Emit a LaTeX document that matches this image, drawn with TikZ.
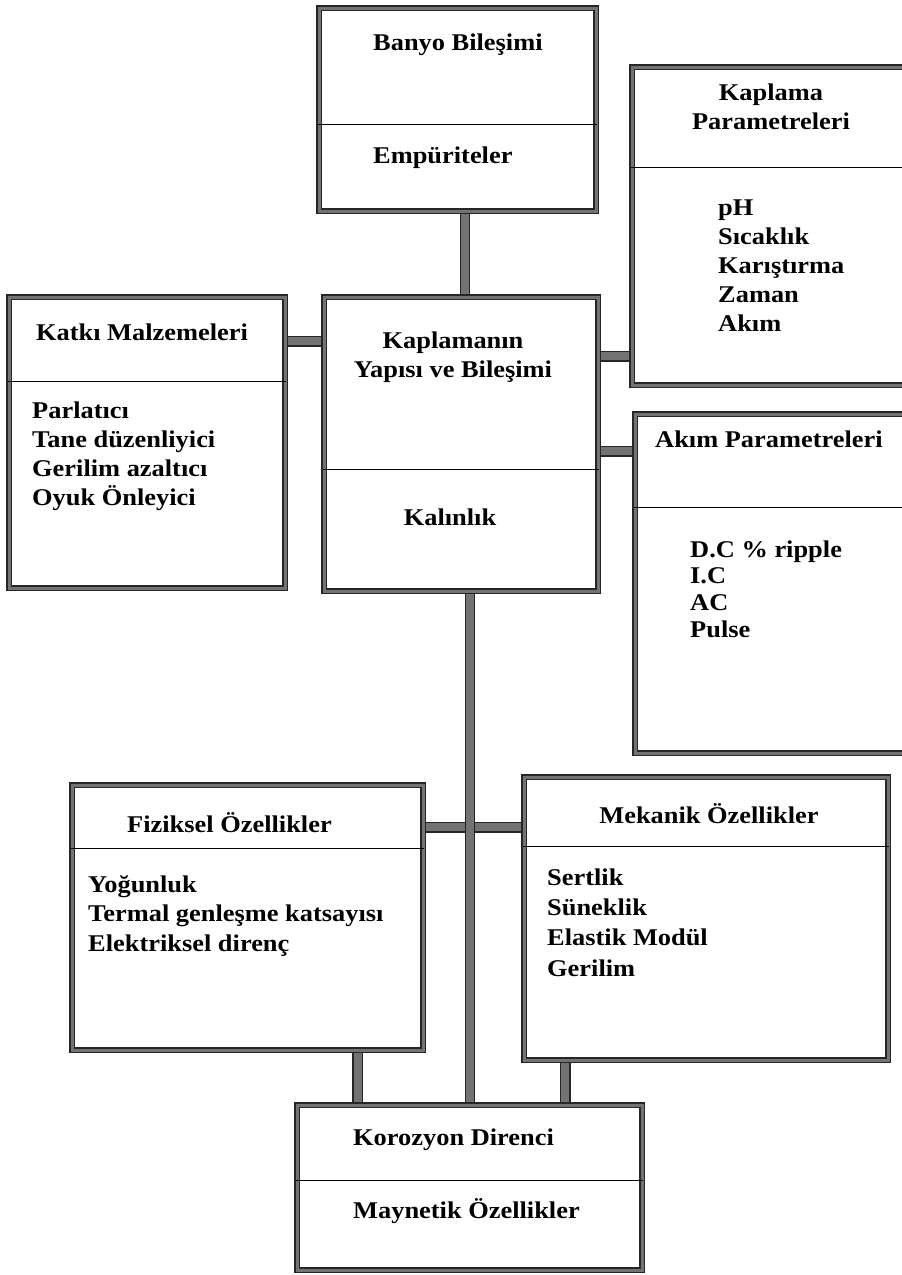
\documentclass[tikz,border=0pt]{standalone}
\usepackage{fontspec}
\setmainfont{Liberation Serif}[FakeStretch=1.1]
\usepackage{tikz}
\usetikzlibrary{positioning,backgrounds}
\tikzset{
    panel/.style={
           rectangle,
           draw=black!85, line width=1.1pt,
           double=black!55, double distance=3pt,
           fill=white,
           inner sep=0pt,
           },
    bar/.style={
           draw=black!85, line width=1.2pt,
           double=black!55, double distance=8pt,
           },
    divider/.style={draw=black, line width=1.1pt},
    boxtext/.style={
           inner sep=0pt,
           font=\bfseries\fontsize{24}{29}\selectfont,
           },
}

\begin{document}
\begin{tikzpicture}[x=1pt,y=-1pt]

 \useasboundingbox (0,0) rectangle (902,1275);
 \clip (0,0) rectangle (902,1275);

 % the boxes
 \node[panel, minimum width=277pt, minimum height=203pt] (BANYO)    at (457.5,109.5) {};
 \node[panel, minimum width=280pt, minimum height=318pt] (KAPLAMA)  at (772,226) {};
 \node[panel, minimum width=276pt, minimum height=291pt] (KATKI)    at (147,442.5) {};
 \node[panel, minimum width=274pt, minimum height=294pt] (YAPI)     at (461,444) {};
 \node[panel, minimum width=277pt, minimum height=339pt] (AKIM)     at (773.5,583.5) {};
 \node[panel, minimum width=351pt, minimum height=265pt] (FIZIK)    at (247.5,917.5) {};
 \node[panel, minimum width=364pt, minimum height=283pt] (MEKANIK)  at (706,918.5) {};
 \node[panel, minimum width=345pt, minimum height=165pt] (KOROZYON) at (469.5,1187.5) {};

 % lines between title and list
 \draw[divider] ([yshift=-117pt]BANYO.north west)    -- ([yshift=-117pt]BANYO.north east);
 \draw[divider] ([yshift=-101pt]KAPLAMA.north west)  -- ([yshift=-101pt]KAPLAMA.north east);
 \draw[divider] ([yshift=-85pt]KATKI.north west)     -- ([yshift=-85pt]KATKI.north east);
 \draw[divider] ([yshift=-173pt]YAPI.north west)     -- ([yshift=-173pt]YAPI.north east);
 \draw[divider] ([yshift=-94pt]AKIM.north west)      -- ([yshift=-94pt]AKIM.north east);
 \draw[divider] ([yshift=-64pt]FIZIK.north west)     -- ([yshift=-64pt]FIZIK.north east);
 \draw[divider] ([yshift=-70pt]MEKANIK.north west)   -- ([yshift=-70pt]MEKANIK.north east);
 \draw[divider] ([yshift=-76pt]KOROZYON.north west)  -- ([yshift=-76pt]KOROZYON.north east);

 % Banyo
 \node[boxtext, anchor=base west] (BANYO-T) at (373,50) {Banyo Bileşimi};
 \node[boxtext, anchor=base west] (BANYO-B) at (373,163) {Empüriteler};

 % Kaplama parametreleri
 \node[boxtext, anchor=base] (KAPLAMA-T) at (771,100)
 {\begin{tabular}[t]{@{}c@{}}
  Kaplama\\
  Parametreleri
 \end{tabular}};
 \node[boxtext, anchor=base west] (KAPLAMA-L) at (718,215)
 {\begin{tabular}[t]{@{}l@{}}
  pH\\
  Sıcaklık\\
  Karıştırma\\
  Zaman\\
  Akım
 \end{tabular}};

 % Katki malzemeleri
 \node[boxtext, anchor=base] (KATKI-T) at (142,340) {Katkı Malzemeleri};
 \node[boxtext, anchor=base west] (KATKI-L) at (32,418)
 {\begin{tabular}[t]{@{}l@{}}
  Parlatıcı\\
  Tane düzenliyici\\
  Gerilim azaltıcı\\
  Oyuk Önleyici
 \end{tabular}};

 % Kaplamanin yapisi
 \node[boxtext, anchor=base] (YAPI-T) at (453,348)
 {\begin{tabular}[t]{@{}c@{}}
  Kaplamanın\\
  Yapısı ve Bileşimi
 \end{tabular}};
 \node[boxtext, anchor=base] (YAPI-B) at (450,525) {Kalınlık};

 % Akim parametreleri
 \node[boxtext, anchor=base west] (AKIM-T) at (655,447) {Akım Parametreleri};
 \node[boxtext, anchor=base west] (AKIM-L) at (690,557)
 {\renewcommand{\arraystretch}{0.93}%
 \begin{tabular}[t]{@{}l@{}}
  D.C \% ripple\\
  I.C\\
  AC\\
  Pulse
 \end{tabular}};

 % Fiziksel
 \node[boxtext, anchor=base west] (FIZIK-T) at (127,832) {Fiziksel Özellikler};
 \node[boxtext, anchor=base west] (FIZIK-L) at (88,892)
 {\renewcommand{\arraystretch}{1.03}%
 \begin{tabular}[t]{@{}l@{}}
  Yoğunluk\\
  Termal genleşme katsayısı\\
  Elektriksel direnç
 \end{tabular}};

 % Mekanik
 \node[boxtext, anchor=base] (MEKANIK-T) at (709,823) {Mekanik Özellikler};
 \node[boxtext, anchor=base west] (MEKANIK-L) at (547,885)
 {\renewcommand{\arraystretch}{1.05}%
 \begin{tabular}[t]{@{}l@{}}
  Sertlik\\
  Süneklik\\
  Elastik Modül\\
  Gerilim
 \end{tabular}};

 % Korozyon
 \node[boxtext, anchor=base west] (KOROZYON-T) at (353,1145) {Korozyon Direnci};
 \node[boxtext, anchor=base west] (KOROZYON-B) at (353,1218) {Maynetik Özellikler};

 % the bars, behind the boxes
 \begin{scope}[on background layer]
  \draw[bar] ([xshift=7.5pt]BANYO.south) -- ([xshift=7.5pt]BANYO.south |- YAPI.north);
  \draw[bar] ([yshift=-45pt]KATKI.north east) -- ([yshift=-45pt]KATKI.north east -| YAPI.west);
  \draw[bar] ([yshift=-60pt]YAPI.north east) -- ([yshift=-60pt]YAPI.north east -| KAPLAMA.west);
  \draw[bar] ([yshift=-155pt]YAPI.north east) -- ([yshift=-155pt]YAPI.north east -| AKIM.west);
  \draw[bar] ([yshift=-43pt]FIZIK.north east) -- ([yshift=-43pt]FIZIK.north east -| MEKANIK.west);
  \draw[bar] ([xshift=9pt]YAPI.south) -- ([xshift=9pt]YAPI.south |- KOROZYON.north);
  \draw[bar] ([xshift=-66pt]FIZIK.south east) -- ([xshift=-66pt]FIZIK.south east |- KOROZYON.north);
  \draw[bar] ([xshift=42pt]MEKANIK.south west) -- ([xshift=42pt]MEKANIK.south west |- KOROZYON.north);
 \end{scope}

\end{tikzpicture}
\end{document}
